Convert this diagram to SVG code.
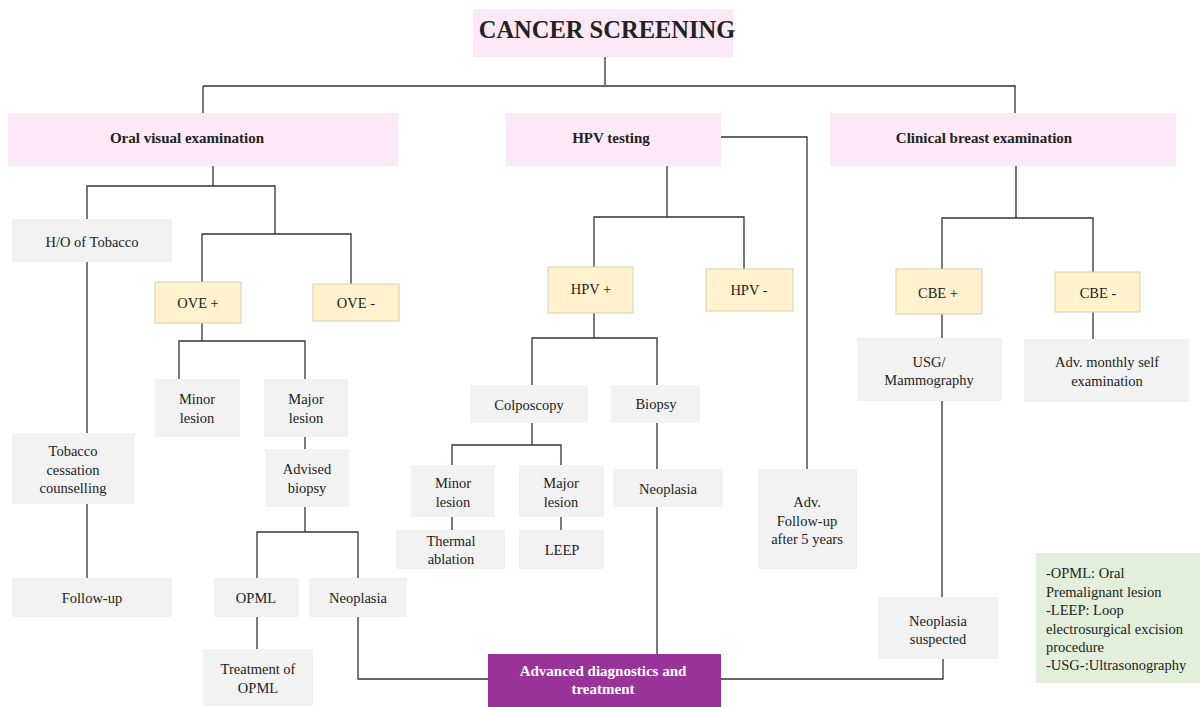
<svg xmlns="http://www.w3.org/2000/svg" width="1200" height="707" viewBox="0 0 1200 707" font-family="'Liberation Serif', 'Tinos', 'Times New Roman', 'DejaVu Serif', serif">
<style>
  .bg{fill:#ffffff}
  .pink{fill:#fce8f6}
  .grey{fill:#f2f2f2}
  .yel{fill:#fff2cc;stroke:#d6cfae;stroke-width:1}
  .purple{fill:#993399}
  .green{fill:#e2efda}
  text{font-family:'Liberation Serif','Tinos','Times New Roman','DejaVu Serif',serif;fill:#222;font-size:14.5px;text-anchor:middle}
  .b{font-weight:bold;font-size:15px}
  .t{font-weight:bold;font-size:24.5px}
  .w{fill:#ffffff}
  .l{text-anchor:start}
  .c{fill:none;stroke:#333;stroke-width:1.3}
</style>
<rect class="bg" x="0" y="0" width="1200" height="707"/>
<g id="connectors">
  <path class="c" d="M605 57V85M203 86H1015M203 86V113M1015 85V113"/>
  <path class="c" d="M213 166V186H87V219M213 186H275V234H202V282M275 234H351V284"/>
  <path class="c" d="M87 262V433M87 504V578"/>
  <path class="c" d="M202 323V341H179V379M202 341H305V379"/>
  <path class="c" d="M305 437V449M305 507V532H257V578M305 532H358V578"/>
  <path class="c" d="M257 617V649M358 617V679H488"/>
  <path class="c" d="M667 166V217H594V267M667 217H744V269"/>
  <path class="c" d="M721 137H807V469"/>
  <path class="c" d="M594 313V338H532V385M594 338H657V385"/>
  <path class="c" d="M532 423V445H452V465M532 445H561V465"/>
  <path class="c" d="M452 517V530M561 517V530"/>
  <path class="c" d="M657 423V469M657 507V654"/>
  <path class="c" d="M1016 166V218H942V269M1016 218H1093V272"/>
  <path class="c" d="M942 314V338M1093 312V339M942 401V597"/>
  <path class="c" d="M721 679H943V659"/>
</g>
<g id="title"><rect class="pink" x="473" y="9" width="260" height="48"/><text class="t" x="607" y="38">CANCER SCREENING</text></g>
<g id="ove"><rect class="pink" x="8" y="113" width="390" height="53"/><text class="b" x="187" y="143">Oral visual examination</text></g>
<g id="hpv"><rect class="pink" x="506" y="113" width="215" height="53"/><text class="b" x="611" y="143">HPV testing</text></g>
<g id="cbe"><rect class="pink" x="830" y="113" width="346" height="53"/><text class="b" x="984" y="143">Clinical breast examination</text></g>

<g id="tobacco"><rect class="grey" x="12" y="219" width="160" height="43"/><text x="92" y="247">H/O of Tobacco</text></g>
<g id="ove-pos"><rect class="yel" x="155" y="282" width="86" height="41"/><text x="198" y="308">OVE +</text></g>
<g id="ove-neg"><rect class="yel" x="313" y="284" width="86" height="37"/><text x="356" y="308">OVE -</text></g>
<g id="minor-oral"><rect class="grey" x="155" y="379" width="85" height="58"/><text x="197" y="404">Minor</text><text x="197" y="423">lesion</text></g>
<g id="major-oral"><rect class="grey" x="264" y="379" width="84" height="58"/><text x="306" y="404">Major</text><text x="306" y="423">lesion</text></g>
<g id="advised-biopsy"><rect class="grey" x="265" y="449" width="84" height="58"/><text x="307" y="474">Advised</text><text x="307" y="493">biopsy</text></g>
<g id="cessation"><rect class="grey" x="12" y="433" width="123" height="71"/><text x="73" y="456">Tobacco</text><text x="73" y="475">cessation</text><text x="73" y="493">counselling</text></g>
<g id="followup"><rect class="grey" x="12" y="578" width="160" height="39"/><text x="92" y="603">Follow-up</text></g>
<g id="opml"><rect class="grey" x="214" y="578" width="85" height="39"/><text x="256" y="603">OPML</text></g>
<g id="neoplasia-oral"><rect class="grey" x="309" y="578" width="98" height="39"/><text x="358" y="603">Neoplasia</text></g>
<g id="treatment-opml"><rect class="grey" x="203" y="649" width="110" height="57"/><text x="258" y="674">Treatment of</text><text x="258" y="693">OPML</text></g>

<g id="hpv-pos"><rect class="yel" x="548" y="267" width="85" height="46"/><text x="591" y="294">HPV +</text></g>
<g id="hpv-neg"><rect class="yel" x="706" y="269" width="87" height="42"/><text x="749" y="295">HPV -</text></g>
<g id="colposcopy"><rect class="grey" x="470" y="385" width="118" height="38"/><text x="529" y="410">Colposcopy</text></g>
<g id="biopsy"><rect class="grey" x="611" y="385" width="89" height="38"/><text x="656" y="409">Biopsy</text></g>
<g id="minor-hpv"><rect class="grey" x="411" y="465" width="84" height="52"/><text x="453" y="488">Minor</text><text x="453" y="507">lesion</text></g>
<g id="major-hpv"><rect class="grey" x="519" y="465" width="85" height="52"/><text x="561" y="488">Major</text><text x="561" y="507">lesion</text></g>
<g id="thermal"><rect class="grey" x="396" y="530" width="109" height="39"/><text x="451" y="546">Thermal</text><text x="451" y="564">ablation</text></g>
<g id="leep"><rect class="grey" x="519" y="530" width="85" height="39"/><text x="562" y="555">LEEP</text></g>
<g id="neoplasia-hpv"><rect class="grey" x="613" y="469" width="110" height="38"/><text x="668" y="494">Neoplasia</text></g>
<g id="adv-followup"><rect class="grey" x="758" y="469" width="99" height="100"/><text x="807" y="507">Adv.</text><text x="807" y="526">Follow-up</text><text x="807" y="544">after 5 years</text></g>

<g id="cbe-pos"><rect class="yel" x="896" y="269" width="86" height="45"/><text x="938" y="298">CBE +</text></g>
<g id="cbe-neg"><rect class="yel" x="1055" y="272" width="85" height="40"/><text x="1098" y="298">CBE -</text></g>
<g id="usg"><rect class="grey" x="857" y="338" width="145" height="63"/><text x="929" y="367">USG/</text><text x="929" y="385">Mammography</text></g>
<g id="self-exam"><rect class="grey" x="1024" y="339" width="165" height="63"/><text x="1107" y="367">Adv. monthly  self</text><text x="1107" y="386">examination</text></g>
<g id="neoplasia-suspected"><rect class="grey" x="878" y="597" width="121" height="62"/><text x="938" y="626">Neoplasia</text><text x="938" y="644">suspected</text></g>

<g id="advanced"><rect class="purple" x="488" y="654" width="233" height="53"/><text class="b w" x="603" y="676">Advanced diagnostics and</text><text class="b w" x="603" y="694">treatment</text></g>

<g id="legend"><rect class="green" x="1036" y="553" width="164" height="130"/>
<text class="l" x="1046" y="578">-OPML: Oral</text>
<text class="l" x="1046" y="597">Premalignant lesion</text>
<text class="l" x="1046" y="615">-LEEP: Loop</text>
<text class="l" x="1046" y="634">electrosurgical excision</text>
<text class="l" x="1046" y="652">procedure</text>
<text class="l" x="1046" y="670">-USG-:Ultrasonography</text>
</g>
</svg>
